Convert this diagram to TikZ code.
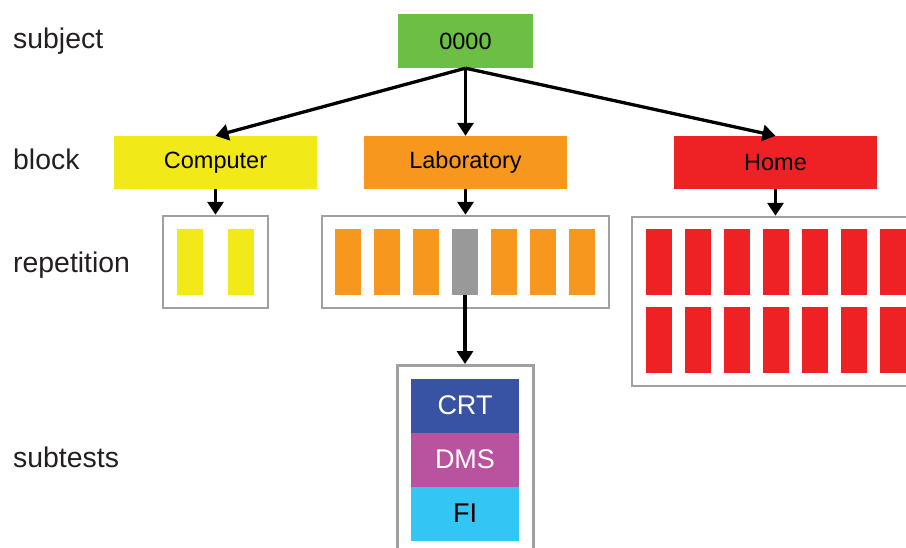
\documentclass[tikz,border=0pt]{standalone}
\usepackage{fontspec}
\setmainfont{Liberation Sans}
\usetikzlibrary{arrows.meta}
\definecolor{cgreen}{HTML}{6DBE45}
\definecolor{cyellow}{HTML}{F2E918}
\definecolor{corange}{HTML}{F7971E}
\definecolor{cred}{HTML}{EE2224}
\definecolor{cgray}{HTML}{999999}
\definecolor{cframe}{HTML}{A0A0A0}
\definecolor{cblue}{HTML}{3953A4}
\definecolor{cmag}{HTML}{B9529F}
\definecolor{ccyan}{HTML}{33C5F3}
\definecolor{ctext}{HTML}{231F20}
\tikzset{
  lbl/.style={anchor=base west, font=\fontsize{28.4}{32}\selectfont, inner sep=0pt, text=ctext},
  blockbox/.style={minimum width=203pt, minimum height=53pt, inner sep=0pt, font=\fontsize{23.5}{26}\selectfont, text=black},
  frame/.style={draw=cframe, line width=2.5pt, fill=white, inner sep=0pt},
  bar/.style={minimum width=26pt, minimum height=66pt, inner sep=0pt},
  subbox/.style={minimum width=108pt, minimum height=54pt, inner sep=0pt, font=\fontsize{27}{30}\selectfont},
  conn/.style={line width=3.3pt, -{Triangle[width=16pt,length=13pt]}}
}
\begin{document}
\begin{tikzpicture}[x=1pt,y=-1pt]
\clip (0,0) rectangle (906,547);
\fill[white] (0,0) rectangle (906,547);
% left labels
\node[lbl] (lsubject) at (13,48) {subject};
\node[lbl] (lblock) at (13,169) {block};
\node[lbl] (lrep) at (13,272) {repetition};
\node[lbl] (lsub) at (13,467) {subtests};
% subject
\node[blockbox, minimum width=135pt, minimum height=54pt, fill=cgreen] (subj) at (465.5,41) {0000};
% blocks
\node[blockbox, fill=cyellow] (comp) at (215.5,162.5) {Computer};
\node[blockbox, fill=corange] (lab) at (465.5,162.5) {Laboratory};
\node[blockbox, fill=cred] (home) at (775.5,162.5) {Home};
% repetition frames
\node[frame, minimum width=105pt, minimum height=92pt] (comprep) at (215.5,262) {};
\node[frame, minimum width=287pt, minimum height=92pt] (labrep) at (465.5,262) {};
\node[frame, minimum width=287pt, minimum height=169pt] (homerep) at (775.5,301.5) {};
% computer bars
\node[bar, fill=cyellow] (cb1) at (190,262) {};
\node[bar, fill=cyellow] (cb2) at (241,262) {};
% lab bars
\foreach \i/\x in {1/348,2/387,3/426,5/504,6/543,7/582}
  \node[bar, fill=corange] (lb\i) at (\x,262) {};
\node[bar, fill=cgray] (lb4) at (465,262) {};
% home bars
\foreach \k in {0,...,6} {
  \node[bar, fill=cred] (hbA\k) at ({659+39*\k},262) {};
  \node[bar, fill=cred] (hbB\k) at ({659+39*\k},340) {};
}
% subtests
\node[frame, line width=3pt, minimum width=136pt, minimum height=200pt, anchor=north] (subt) at (465,364) {};
\node[subbox, fill=cblue, text=white, text depth=2pt] (crt) at (465,406) {CRT};
\node[subbox, fill=cmag, text=white, text depth=2pt] (dms) at (465,460) {DMS};
\node[subbox, fill=ccyan, text=black, text depth=2pt] (fi) at (465,514) {FI};
% connectors
\draw[conn] (subj.south) -- (comp.north);
\draw[conn] (subj.south) -- (lab.north);
\draw[conn] (subj.south) -- (home.north);
\draw[conn] (comp.south) -- (comprep.north);
\draw[conn] (lab.south) -- (labrep.north);
\draw[conn] (home.south) -- (homerep.north);
\draw[conn] (lb4.south) -- (subt.north);
\end{tikzpicture}
\end{document}
